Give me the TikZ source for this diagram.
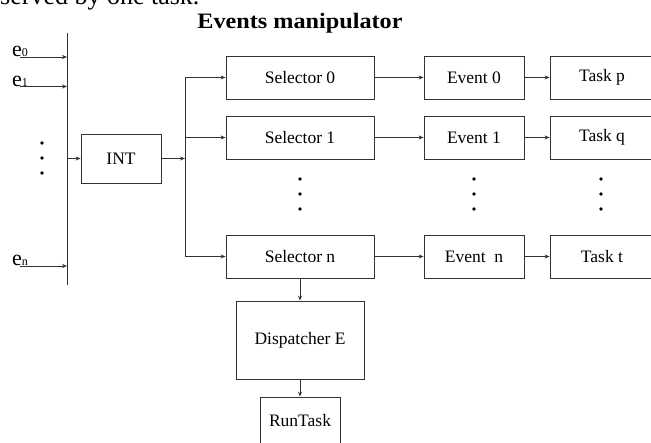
\documentclass[tikz,border=0pt]{standalone}
\usepackage{fontspec}
\setmainfont{Liberation Serif}
\usepackage{graphicx}
\usetikzlibrary{arrows.meta,positioning}

\tikzset{
  box/.style={draw=black!80, line width=0.8pt, inner sep=0pt, font=\fontsize{17.5}{20}\selectfont},
  flow/.style={draw=black!80, line width=0.8pt, -{Stealth[length=5pt,width=4pt]}},
  wire/.style={draw=black!80, line width=0.8pt},
  elabel/.style={anchor=base west, inner sep=0pt, font=\fontsize{22}{24}\selectfont},
}
\newcommand{\evlabel}[1]{e{\fontsize{12}{12}\selectfont #1}}

\begin{document}
\begin{tikzpicture}[x=1pt,y=-1pt]
\useasboundingbox (0,0) rectangle (651,443);

% cut-off line of the page above
\node[anchor=base west, inner sep=0pt, font=\fontsize{26}{28}\selectfont] (above) at (0,5) {served by one task.};
\node[anchor=base, inner sep=0pt, font=\fontsize{22}{24}\selectfont\bfseries] (title) at (300,29) {\scalebox{1.1}[1]{Events manipulator}};

% input bus
\coordinate (bustop) at (67,33);
\coordinate (busbot) at (67,285);
\draw[wire] (bustop) -- (busbot);

\node[elabel] (e0) at (12,57) {\evlabel{0}};
\node[elabel] (e1) at (12,86.5) {\evlabel{1}};
\node[elabel] (en) at (12,266) {\evlabel{n}};
\foreach \e in {e0,e1,en}
  \draw[flow] (\e.base) -- (\e.base -| bustop);

\node[box, minimum width=80pt, minimum height=49pt] (int) at (121,158.5) {INT};
\draw[flow] (int.west -| bustop) -- (int.west);

% selectors, events, tasks
\node[box, minimum width=148pt, minimum height=43pt] (sel0) at (300,77.5) {Selector 0};
\node[box, minimum width=148pt, minimum height=43pt] (sel1) at (300,137.5) {Selector 1};
\node[box, minimum width=148pt, minimum height=43pt] (seln) at (300,256.5) {Selector n};

\node[box, minimum width=100pt, minimum height=43pt] (ev0) at (474,77.5) {Event 0};
\node[box, minimum width=100pt, minimum height=43pt] (ev1) at (474,137.5) {Event 1};
\node[box, minimum width=100pt, minimum height=43pt] (evn) at (474,256.5) {Event\ \ n};

\node[box, minimum width=104pt, minimum height=43pt] (task0) at (602,77.5) {Task p};
\node[box, minimum width=104pt, minimum height=43pt] (task1) at (602,137.5) {Task q};
\node[box, minimum width=104pt, minimum height=43pt] (taskn) at (602,256.5) {Task t};

\coordinate (fork) at (185,158.5);
\draw[flow] (int.east) -- (fork);
\draw[wire] (sel0.west -| fork) -- (seln.west -| fork);
\foreach \s/\v/\t in {sel0/ev0/task0, sel1/ev1/task1, seln/evn/taskn}{
  \draw[flow] (\s.west -| fork) -- (\s.west);
  \draw[flow] (\s) -- (\v);
  \draw[flow] (\v) -- (\t);
}

\node[box, minimum width=128pt, minimum height=78pt] (disp) at (300,340) {Dispatcher E};
\node[box, minimum width=80pt, minimum height=48pt] (run) at (300,421) {RunTask};
\draw[flow] (seln) -- (disp);
\draw[flow] (disp) -- (run);

% dots
\foreach \y in {143,158,173}
  \fill (42,\y) circle[radius=1.8pt];
\foreach \x in {300,474,601}
  \foreach \y in {179,194,209}
    \fill (\x,\y) circle[radius=1.8pt];
\end{tikzpicture}
\end{document}
